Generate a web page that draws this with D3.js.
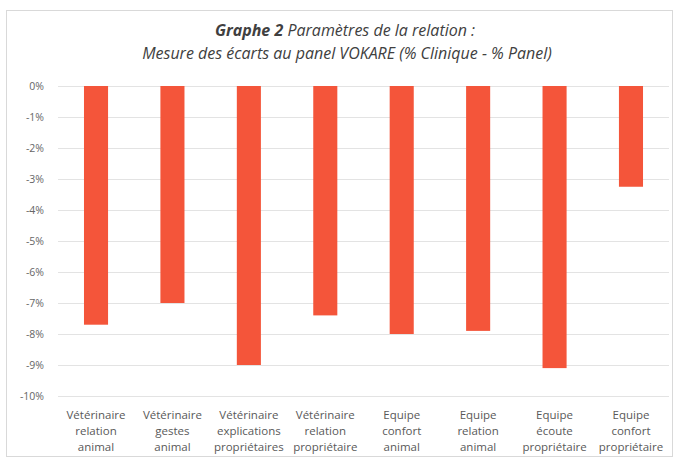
<!DOCTYPE html>
<html><head><meta charset="utf-8">
<script src="https://cdn.jsdelivr.net/npm/d3@7"></script>
<style>body{margin:0;background:#fff;} svg{display:block;}</style>
</head><body>
<svg id="c" width="679" height="459"></svg>
<script>
const categories = [
  ["Vétérinaire","relation","animal"],
  ["Vétérinaire","gestes","animal"],
  ["Vétérinaire","explications","propriétaires"],
  ["Vétérinaire","relation","propriétaire"],
  ["Equipe","confort","animal"],
  ["Equipe","relation","animal"],
  ["Equipe","écoute","propriétaire"],
  ["Equipe","confort","propriétaire"]
];
const values = [-7.7, -7.0, -9.0, -7.4, -8.0, -7.9, -9.1, -3.25];
const yTicks = [0,-1,-2,-3,-4,-5,-6,-7,-8,-9,-10];
const titleLine1Bold = "Graphe 2";
const titleLine1Rest = " Paramètres de la relation :";
const titleLine2 = "Mesure des écarts au panel VOKARE (% Clinique - % Panel)";

const svg = d3.select("#c");
const font = "'Open Sans', 'Liberation Sans', sans-serif";
svg.append("rect").attr("x",6.5).attr("y",10.5).attr("width",666).attr("height",446)
  .attr("fill","#fff").attr("stroke","#d9d9d9");

const x = d3.scaleBand().domain(d3.range(categories.length)).range([58,669]).paddingInner(0.685).paddingOuter(0.34);
const y = d3.scaleLinear().domain([0,-10]).range([86,396]);

svg.append("g").selectAll("line").data(yTicks).join("line")
  .attr("x1",58).attr("x2",669).attr("y1",d=>y(d)+0.5).attr("y2",d=>y(d)+0.5)
  .attr("stroke","#e3e3e3").attr("stroke-width",1);

const yAxis = d3.axisLeft(y).tickValues(yTicks).tickSize(0).tickPadding(14).tickFormat(d=>d+"%");
const ya = svg.append("g").attr("transform","translate(58,0)").call(yAxis);
ya.select(".domain").remove();
ya.selectAll("text").attr("font-family",font).attr("font-size",10.5).attr("fill","#666");

svg.append("g").selectAll("rect").data(values).join("rect")
  .attr("x",(d,i)=>x(i)).attr("width",x.bandwidth())
  .attr("y",y(0)).attr("height",d=>y(d)-y(0))
  .attr("fill","#f4553a");

const xa = svg.append("g");
categories.forEach((lines,i)=>{
  const t = xa.append("text").attr("x",x(i)+x.bandwidth()/2).attr("y",419)
    .attr("text-anchor","middle").attr("font-family",font).attr("font-size",11.5).attr("fill","#595959");
  lines.forEach((l,j)=>t.append("tspan").attr("x",x(i)+x.bandwidth()/2).attr("dy",j?16:0).text(l));
});

const t1 = svg.append("text").attr("x",345).attr("y",36).attr("text-anchor","middle")
  .attr("font-family",font).attr("font-size",16).attr("font-style","italic").attr("fill","#404040");
t1.append("tspan").attr("font-weight","bold").text(titleLine1Bold);
t1.append("tspan").text(titleLine1Rest);
svg.append("text").attr("x",347).attr("y",59).attr("text-anchor","middle")
  .attr("font-family",font).attr("font-size",16).attr("font-style","italic").attr("fill","#404040").text(titleLine2);
</script>
</body></html>
